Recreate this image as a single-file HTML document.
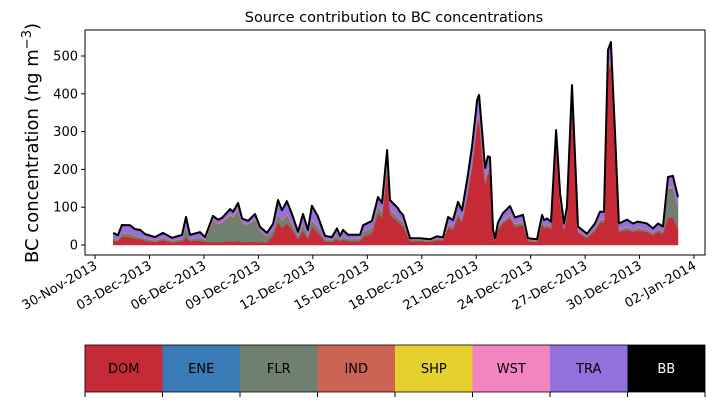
<!DOCTYPE html>
<html><head><meta charset="utf-8"><style>
body{margin:0;background:#fff;}
svg{display:block;font-family:"DejaVu Sans","Liberation Sans",sans-serif;}
</style></head><body>
<svg id="chart" width="714" height="402">
<text x="394" y="22" text-anchor="middle" font-size="14.5">Source contribution to BC concentrations</text>
<text transform="translate(38,143) rotate(-90)" text-anchor="middle" font-size="18">BC concentration (ng m<tspan dy="-7" font-size="13">−3</tspan><tspan dy="7">)</tspan></text>
<g id="plot"></g>
<rect x="85" y="30" width="620" height="225" fill="none" stroke="#000" stroke-width="1"/>
<g id="cbar"></g>
</svg>
<script>
const days=[0,0.26,0.48,0.93,1.2,1.48,1.75,2.3,2.74,3.24,3.79,4.01,4.23,4.78,5.06,5.5,5.78,6.0,6.44,6.6,6.88,7.1,7.43,7.81,8.09,8.47,8.81,9.08,9.3,9.57,9.85,10.18,10.46,10.73,10.95,11.28,11.67,12.05,12.33,12.5,12.66,12.94,13.6,13.77,14.26,14.59,14.81,15.09,15.25,15.69,15.8,15.97,16.35,16.9,17.46,17.84,18.17,18.45,18.72,19.0,19.22,19.5,19.77,20.05,20.16,20.32,20.49,20.65,20.76,20.93,21.04,21.2,21.48,21.86,22.14,22.58,22.85,23.35,23.63,23.74,23.9,24.12,24.4,24.62,24.84,25.0,25.28,25.44,25.61,26.1,26.54,26.82,27.04,27.26,27.42,27.64,27.86,28.31,28.64,28.91,29.41,29.74,30.02,30.29,30.57,30.84,31.12];
const dom=[12,10,22,21,17,16,11,8,13,7,10,20,10,12,8,8,7,8,10,9,11,8,8,9,7,7,25,60,45,58,40,15,38,16,48,33,9,8,15,9,14,10,10,22,30,85,72,195,80,62,56,50,10,10,8,13,11,45,40,75,60,125,205,315,330,245,160,190,188,25,10,40,58,70,48,53,10,8,55,45,48,42,265,110,38,72,375,205,32,18,38,60,60,460,480,265,35,40,35,38,35,26,35,30,72,74,40];
const flr=[5,4,8,8,6,6,5,4,5,4,5,25,5,7,4,55,48,50,68,63,80,49,44,58,30,15,12,20,17,20,15,7,14,8,16,13,5,4,9,5,8,5,6,12,15,15,14,15,12,10,10,9,3,3,3,3,3,7,7,9,8,10,10,10,10,10,9,9,9,4,3,5,6,7,6,6,3,3,6,5,5,5,6,5,5,6,6,6,4,4,5,6,6,8,8,6,5,6,5,6,5,5,6,5,75,76,60];
const ind=[1,1,2,2,1,1,1,1,1,1,1,2,1,1,1,2,2,2,2,2,3,2,2,2,1,1,2,3,2,3,2,1,2,1,2,2,1,1,1,1,1,1,1,1,2,3,3,4,3,2,2,2,1,1,1,1,1,2,2,2,2,3,3,4,4,4,3,3,3,1,1,2,2,2,2,2,1,1,2,2,2,2,3,2,2,2,4,3,1,1,1,2,2,4,4,3,1,2,1,2,1,1,1,1,3,3,2];
const wst=[1,1,1,1,1,1,1,1,1,1,1,2,1,1,1,2,1,2,2,2,2,1,1,2,1,1,1,2,2,2,2,1,2,1,2,2,1,1,1,1,1,1,1,1,2,2,2,3,2,2,2,2,1,1,1,1,1,2,1,2,2,2,3,4,4,3,3,3,3,1,1,1,2,2,2,2,1,1,2,1,1,1,3,2,1,2,4,3,1,1,1,2,2,4,4,3,1,2,1,2,1,1,1,1,3,3,2];
const tra=[13,10,20,20,17,16,11,7,12,6,10,25,10,13,7,10,9,10,13,12,15,10,9,11,9,8,16,34,26,33,23,11,26,14,36,26,8,7,18,8,16,10,9,16,15,22,20,34,22,21,18,16,3,3,2,5,4,18,16,26,20,32,39,50,49,42,29,30,29,9,3,12,17,22,15,17,3,2,15,13,14,12,27,18,11,18,34,26,11,6,12,18,18,40,41,27,15,17,15,14,15,11,14,12,27,27,23];
const yTicks=[0,100,200,300,400,500];
const xTickLabels=["30-Nov-2013","03-Dec-2013","06-Dec-2013","09-Dec-2013","12-Dec-2013","15-Dec-2013","18-Dec-2013","21-Dec-2013","24-Dec-2013","27-Dec-2013","30-Dec-2013","02-Jan-2014"];
const xTickDays=[-1,2,5,8,11,14,17,20,23,26,29,32];
const legendNames=["DOM","ENE","FLR","IND","SHP","WST","TRA","BB"];
const legendColors=["#c52a36","#3a7bb5","#6f8071","#cb6454","#e6d02f","#f284bf","#9370db","#000000"];

const NS="http://www.w3.org/2000/svg";
const X=d=>113.2+d*18.15;
const Y=v=>245-v*0.378;
const plot=document.getElementById('plot');
function mk(tag,attrs,parent){const e=document.createElementNS(NS,tag);for(const k in attrs)e.setAttribute(k,attrs[k]);parent.appendChild(e);return e;}

const layers=[[dom,"#c52a36","area-dom"],[flr,"#6f8071","area-flr"],[ind,"#cb6454","area-ind"],[wst,"#f284bf","area-wst"],[tra,"#9370db","area-tra"]];
let base=days.map(()=>0);
layers.forEach(([arr,col,name])=>{
  const top=base.map((b,i)=>b+arr[i]);
  let d="M"+days.map((t,i)=>X(t).toFixed(1)+","+Y(top[i]).toFixed(1)).join("L");
  for(let i=days.length-1;i>=0;i--)d+="L"+X(days[i]).toFixed(1)+","+Y(base[i]).toFixed(1);
  const p=mk('path',{d:d+"Z",fill:col,stroke:col,'stroke-width':0.5},plot);
  
  
  base=top;
});
const line=mk('path',{d:"M"+days.map((t,i)=>X(t).toFixed(1)+","+Y(base[i]).toFixed(1)).join("L"),fill:"none",stroke:"#000",'stroke-width':2,'stroke-linejoin':'round'},plot);



yTicks.forEach(v=>{
  const t=mk('line',{x1:81,x2:85,y1:Y(v),y2:Y(v),stroke:"#000"},plot);
  
  
  const l=mk('text',{x:78,y:Y(v)+4.5,'text-anchor':'end','font-size':13},plot);
  l.textContent=v;
  
  
});
xTickDays.forEach((d,i)=>{
  const x=X(d);
  const t=mk('line',{x1:x,x2:x,y1:255,y2:259,stroke:"#000"},plot);
  
  
  const l=mk('text',{transform:`translate(${x+3},${268}) rotate(-30)`,'text-anchor':'end','font-size':13},plot);
  l.textContent=xTickLabels[i];
  
  
});
const cb=document.getElementById('cbar');
const w=620/legendNames.length;
legendNames.forEach((n,i)=>{
  const r=mk('rect',{x:85+i*w,y:345,width:w,height:47,fill:legendColors[i]},cb);
  
  
  const t=mk('text',{x:85+i*w+w/2,y:373,'text-anchor':'middle','font-size':13,fill:n==="BB"?"#fff":"#000"},cb);
  t.textContent=n;
  
  
});
for(let i=0;i<=legendNames.length;i++){
  const tk=mk('line',{x1:85+i*w,x2:85+i*w,y1:392,y2:397,stroke:"#000"},cb);
  
  
}
const fr=mk('rect',{x:85,y:345,width:620,height:47,fill:"none",stroke:"#000",'stroke-width':0.8},cb);


</script>
</body></html>
